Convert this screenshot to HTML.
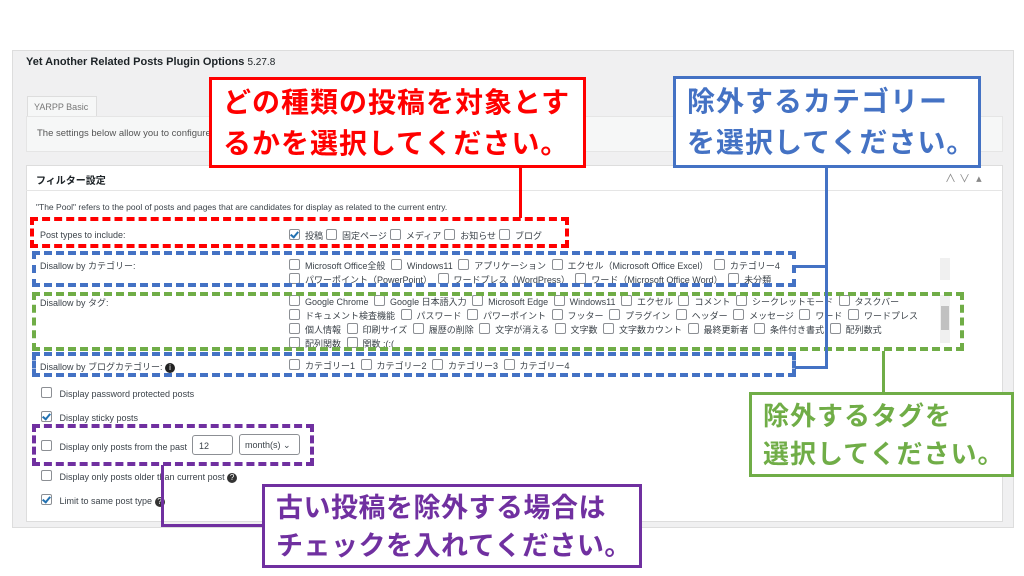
<!DOCTYPE html>
<html><head><meta charset="utf-8"><style>
body{margin:0;width:1024px;height:576px;background:#fff;position:relative;overflow:hidden;font-family:"Liberation Sans","Noto Sans CJK JP",sans-serif;color:#3c434a}
.a{position:absolute}
.s{font-size:9.5px;white-space:nowrap}
.cb{display:inline-block;width:9px;height:9px;border:1px solid #8c8f94;border-radius:2px;vertical-align:-1px;margin:0 5px 0 3px;background:#fff}
.ck{position:relative}
.ck:after{content:"";position:absolute;left:2px;top:0px;width:3px;height:6px;border:solid #2271b1;border-width:0 2px 2px 0;transform:rotate(40deg)}
.call{position:absolute;background:#fff;border:3px solid;font-weight:bold;font-size:28px;line-height:41px;padding:2px 0 0 11px;box-sizing:border-box;white-space:nowrap;letter-spacing:1px;overflow:hidden}
.d{position:absolute;border:4px dashed;box-sizing:border-box}
</style></head><body>
<div class="a" style="left:12px;top:50px;width:1000px;height:476px;background:#f0f0f1;border:1px solid #ddd"></div>
<div class="a" style="left:26px;top:56px;font-size:11px;font-weight:bold;color:#1d2327">Yet Another Related Posts Plugin Options <span style="font-weight:normal;font-size:10px">5.27.8</span></div>
<div class="a" style="left:27px;top:96px;width:62px;height:20px;background:#f6f7f7;border:1px solid #ddd;border-bottom:none;font-size:9px;color:#777;line-height:20px;padding-left:6px">YARPP Basic</div>
<div class="a" style="left:26px;top:116px;width:975px;height:34px;background:#f6f7f7;border:1px solid #e5e5e5"></div>
<div class="a s" style="left:37px;top:128px;color:#555">The settings below allow you to configure</div>
<div class="a" style="left:26px;top:165px;width:975px;height:355px;background:#fff;border:1px solid #ddd"></div>
<div class="a" style="left:26px;top:190px;width:977px;height:1px;background:#e5e5e5"></div>
<div class="a" style="left:36px;top:172px;font-size:10px;font-weight:bold;color:#1d2327">フィルター設定</div>
<div class="a s" style="left:945px;top:170px;color:#888;font-size:11px">∧ ∨ &nbsp;▴</div>
<div class="a s" style="left:36px;top:202px;font-size:8.5px">"The Pool" refers to the pool of posts and pages that are candidates for display as related to the current entry.</div>
<div class="a s" style="left:40px;top:230px;font-size:9px">Post types to include:</div>
<div class="a s" style="left:286px;top:229px;font-size:9px"><span class="cb ck"></span>投稿<span class="cb"></span>固定ページ<span class="cb"></span>メディア<span class="cb"></span>お知らせ<span class="cb"></span>ブログ</div>
<div class="a s" style="left:40px;top:259px;font-size:9px">Disallow by カテゴリー:</div>
<div class="a s" style="left:286px;top:259px;font-size:9px;line-height:13px"><span class="cb"></span>Microsoft Office全般 <span class="cb"></span>Windows11 <span class="cb"></span>アプリケーション <span class="cb"></span>エクセル（Microsoft Office Excel） <span class="cb"></span>カテゴリー4<br><span class="cb"></span>パワーポイント（PowerPoint） <span class="cb"></span>ワードプレス（WordPress） <span class="cb"></span>ワード（Microsoft Office Word） <span class="cb"></span>未分類</div>
<div class="a s" style="left:40px;top:296px;font-size:9px">Disallow by タグ:</div>
<div class="a s" style="left:286px;top:295px;font-size:9px;line-height:13px"><span class="cb"></span>Google Chrome <span class="cb"></span>Google 日本語入力 <span class="cb"></span>Microsoft Edge <span class="cb"></span>Windows11 <span class="cb"></span>エクセル <span class="cb"></span>コメント <span class="cb"></span>シークレットモード <span class="cb"></span>タスクバー<br><span class="cb"></span>ドキュメント検査機能 <span class="cb"></span>パスワード <span class="cb"></span>パワーポイント <span class="cb"></span>フッター <span class="cb"></span>プラグイン <span class="cb"></span>ヘッダー <span class="cb"></span>メッセージ <span class="cb"></span>ワード <span class="cb"></span>ワードプレス<br><span class="cb"></span>個人情報 <span class="cb"></span>印刷サイズ <span class="cb"></span>履歴の削除 <span class="cb"></span>文字が消える <span class="cb"></span>文字数 <span class="cb"></span>文字数カウント <span class="cb"></span>最終更新者 <span class="cb"></span>条件付き書式 <span class="cb"></span>配列数式<br><span class="cb"></span>配列関数 <span class="cb"></span>関数 :(:(</div>
<div class="a" style="left:940px;top:295px;width:10px;height:48px;background:#f0f0f0"></div>
<div class="a" style="left:941px;top:306px;width:8px;height:24px;background:#c1c1c1"></div>
<div class="a" style="left:940px;top:258px;width:10px;height:22px;background:#f0f0f0"></div>
<div class="a s" style="left:40px;top:360px;font-size:9px">Disallow by ブログカテゴリー: <span style="display:inline-block;width:10px;height:10px;border-radius:5px;background:#222;color:#fff;font-size:8px;text-align:center;line-height:10px">i</span></div>
<div class="a s" style="left:286px;top:359px;font-size:9px"><span class="cb"></span>カテゴリー1 <span class="cb"></span>カテゴリー2 <span class="cb"></span>カテゴリー3 <span class="cb"></span>カテゴリー4</div>
<div class="a s" style="left:38px;top:387px;font-size:9px"><span class="cb"></span> Display password protected posts</div>
<div class="a s" style="left:38px;top:411px;font-size:9px"><span class="cb ck"></span> Display sticky posts</div>
<div class="a s" style="left:38px;top:440px;font-size:9px"><span class="cb"></span> Display only posts from the past</div>
<div class="a" style="left:192px;top:435px;width:41px;height:20px;border:1px solid #8c8f94;border-radius:3px;font-size:9px;line-height:20px;padding-left:6px;box-sizing:border-box">12</div>
<div class="a" style="left:239px;top:434px;width:61px;height:21px;border:1px solid #8c8f94;border-radius:3px;font-size:9px;line-height:20px;padding-left:5px;box-sizing:border-box">month(s) ⌄</div>
<div class="a s" style="left:38px;top:470px;font-size:9px"><span class="cb"></span> Display only posts older than current post <span style="display:inline-block;width:10px;height:10px;border-radius:5px;background:#333;color:#fff;font-size:8px;text-align:center;line-height:10px">?</span></div>
<div class="a s" style="left:38px;top:494px;font-size:9px"><span class="cb ck"></span> Limit to same post type <span style="display:inline-block;width:10px;height:10px;border-radius:5px;background:#333;color:#fff;font-size:8px;text-align:center;line-height:10px">?</span></div>

<div class="d" style="left:30px;top:217px;width:539px;height:31px;border-color:#ff0000"></div>
<div class="d" style="left:32px;top:251px;width:764px;height:36px;border-color:#4472c4"></div>
<div class="d" style="left:32px;top:292px;width:932px;height:59px;border-color:#70ad47"></div>
<div class="d" style="left:32px;top:352px;width:764px;height:25px;border-color:#4472c4"></div>
<div class="d" style="left:32px;top:424px;width:282px;height:42px;border-color:#7030a0"></div>

<div class="a" style="left:519px;top:167px;width:3px;height:51px;background:#ff0000"></div>
<div class="a" style="left:825px;top:167px;width:3px;height:202px;background:#4472c4"></div>
<div class="a" style="left:795px;top:265px;width:33px;height:3px;background:#4472c4"></div>
<div class="a" style="left:795px;top:366px;width:33px;height:3px;background:#4472c4"></div>
<div class="a" style="left:882px;top:351px;width:3px;height:42px;background:#70ad47"></div>
<div class="a" style="left:161px;top:465px;width:3px;height:62px;background:#7030a0"></div>
<div class="a" style="left:161px;top:524px;width:102px;height:3px;background:#7030a0"></div>

<div class="call" style="left:209px;top:77px;width:377px;height:91px;border-color:#ff0000;color:#ff0000">どの種類の投稿を対象とす<br>るかを選択してください。</div>
<div class="call" style="left:673px;top:76px;width:308px;height:92px;border-color:#4472c4;color:#4472c4">除外するカテゴリー<br>を選択してください。</div>
<div class="call" style="left:749px;top:392px;width:265px;height:85px;border-color:#70ad47;color:#70ad47;line-height:38px;font-size:26px">除外するタグを<br>選択してください。</div>
<div class="call" style="left:262px;top:484px;width:380px;height:84px;border-color:#7030a0;color:#7030a0;line-height:38px;font-size:27px;letter-spacing:0.5px">古い投稿を除外する場合は<br>チェックを入れてください。</div>
</body></html>
